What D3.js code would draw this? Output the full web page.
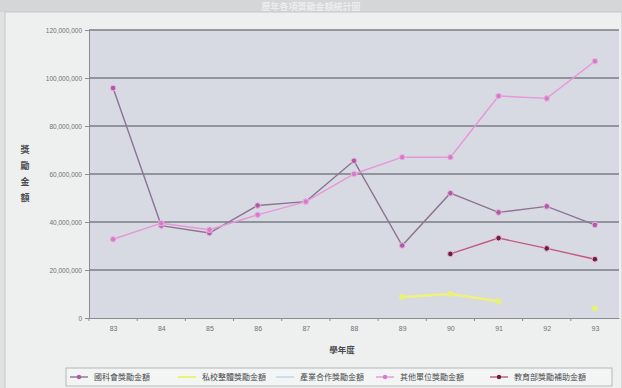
<!DOCTYPE html>
<html><head><meta charset="utf-8">
<script src="https://cdn.jsdelivr.net/npm/d3@7"></script>
<style>
html,body{margin:0;padding:0;background:#dfe1e2;}
svg{display:block;font-family:"Noto Sans CJK TC","Noto Sans",sans-serif;}
</style></head><body>
<svg id="c" width="622" height="388"></svg>
<script>
const years = ["83","84","85","86","87","88","89","90","91","92","93"];
const seriesNames = ["國科會獎勵金額","私校整體獎勵金額","產業合作獎勵金額","其他單位獎勵金額","教育部獎勵補助金額"];
const nscValues   = [95800000,38500000,35400000,46900000,48500000,65500000,30200000,52000000,44000000,46500000,38800000];
const privValues  = [null,null,null,null,null,null,8700000,10000000,7000000,null,4000000];
const indValues   = [null,null,null,null,null,null,null,null,null,null,null];
const otherValues = [32800000,39500000,36800000,43000000,48500000,60000000,67000000,67000000,92500000,91500000,107000000];
const moeValues   = [null,null,null,null,null,null,null,26700000,33300000,29000000,24500000];
const yTicks = [0,20000000,40000000,60000000,80000000,100000000,120000000];
const yTitle = "獎勵金額";
const xTitle = "學年度";
const chartTitle = "歷年各項獎勵金額統計圖";

const colors = {
  line:   ["#8d7394","#eef27a","#b9d6ee","#e597d8","#c2587a"],
  marker: ["#b05aa6","#e9f07a","#b9d6ee","#d67bcc","#6b2038"]
};
const values = [nscValues, privValues, indValues, otherValues, moeValues];

const svg = d3.select("#c");
// title strip
svg.append("rect").attr("x",0).attr("y",0).attr("width",622).attr("height",12).attr("fill","#d4d6d8");
svg.append("text").attr("x",311).attr("y",9.5).attr("text-anchor","middle")
  .attr("font-size",9).attr("fill","#eceeee").attr("font-weight","bold").text(chartTitle);
// chart area
svg.append("rect").attr("x",5).attr("y",12).attr("width",617).attr("height",380)
  .attr("fill","#eef0ef").attr("stroke","#c4c7c8");

const plot = {l:89, r:619, t:30, b:318};
svg.append("rect").attr("x",plot.l).attr("y",plot.t).attr("width",plot.r-plot.l).attr("height",plot.b-plot.t)
  .attr("fill","#d8dae3");

const x = d3.scalePoint().domain(years).range([plot.l, plot.r]).padding(0.5);
const y = d3.scaleLinear().domain([0,120000000]).range([plot.b, plot.t]);

// grid
svg.append("g").selectAll("line").data(yTicks.filter(d=>d>0)).join("line")
  .attr("x1",plot.l).attr("x2",plot.r).attr("y1",d=>y(d)).attr("y2",d=>y(d))
  .attr("stroke","#7a7c84").attr("stroke-width",1.4);

// y axis
const yAxis = svg.append("g").attr("transform",`translate(${plot.l},0)`)
  .call(d3.axisLeft(y).tickValues(yTicks).tickSize(4).tickFormat(d=>d===0?"0":d3.format(",")(d)));
yAxis.select(".domain").attr("stroke","#8a8c92");
yAxis.selectAll(".tick line").attr("stroke","#8a8c92");
yAxis.selectAll("text").attr("font-size",6.5).attr("fill","#6e7072").attr("font-family","Liberation Sans, sans-serif");

// x axis
const step = x.step();
const xAxis = svg.append("g").attr("transform",`translate(0,${plot.b})`)
  .call(d3.axisBottom(x).tickSize(0).tickPadding(8));
xAxis.select(".domain").attr("stroke","#8a8c92").attr("stroke-width",1.2);
xAxis.selectAll("text").attr("font-size",7).attr("fill","#6e7072").attr("font-family","Liberation Sans, sans-serif");
svg.append("g").selectAll("line").data(years).join("line")
  .attr("x1",d=>x(d)-step/2).attr("x2",d=>x(d)-step/2)
  .attr("y1",plot.b).attr("y2",plot.b+3).attr("stroke","#8a8c92");

// titles
const yt = svg.append("text").attr("x",25).attr("font-size",9).attr("font-weight","bold").attr("fill","#4a4a4e").attr("text-anchor","middle");
yTitle.split("").forEach((ch,i)=>yt.append("tspan").attr("x",25).attr("y",153+i*16).text(ch));
svg.append("text").attr("x",342).attr("y",353).attr("text-anchor","middle").attr("font-size",8.5)
  .attr("font-weight","bold").attr("fill","#4a4a4e").text(xTitle);

// series
const line = d3.line().defined(d=>d.v!=null).x(d=>x(d.k)).y(d=>y(d.v));
values.forEach((vals,i)=>{
  const pts = years.map((k,j)=>({k, v: vals[j]}));
  svg.append("path").datum(pts).attr("d",line).attr("fill","none")
    .attr("stroke",colors.line[i]).attr("stroke-width", i===1?2.5:1.4);
  if(i===2) return;
  svg.append("g").selectAll("circle").data(pts.filter(d=>d.v!=null)).join("circle")
    .attr("cx",d=>x(d.k)).attr("cy",d=>y(d.v)).attr("r", i===1?3:2.8)
    .attr("fill",colors.marker[i]).attr("stroke", i===1?"none":"#e8b6e0").attr("stroke-width",1);
});

// legend
const lg = svg.append("g");
lg.append("rect").attr("x",66).attr("y",368).attr("width",546).attr("height",18)
  .attr("fill","#f3f5f4").attr("stroke","#b4b7b8");
const lx = [70,178,276,376,490];
seriesNames.forEach((n,i)=>{
  const g = lg.append("g").attr("transform",`translate(${lx[i]},377)`);
  g.append("line").attr("x1",0).attr("x2",18).attr("stroke",colors.line[i]).attr("stroke-width",i===1?2:1.4);
  if(i===0||i===3||i===4) g.append("circle").attr("cx",9).attr("r",2.2).attr("fill",colors.marker[i]);
  g.append("text").attr("x",24).attr("y",3).attr("font-size",8).attr("fill","#4a4a4e").text(n);
});
</script>
</body></html>
